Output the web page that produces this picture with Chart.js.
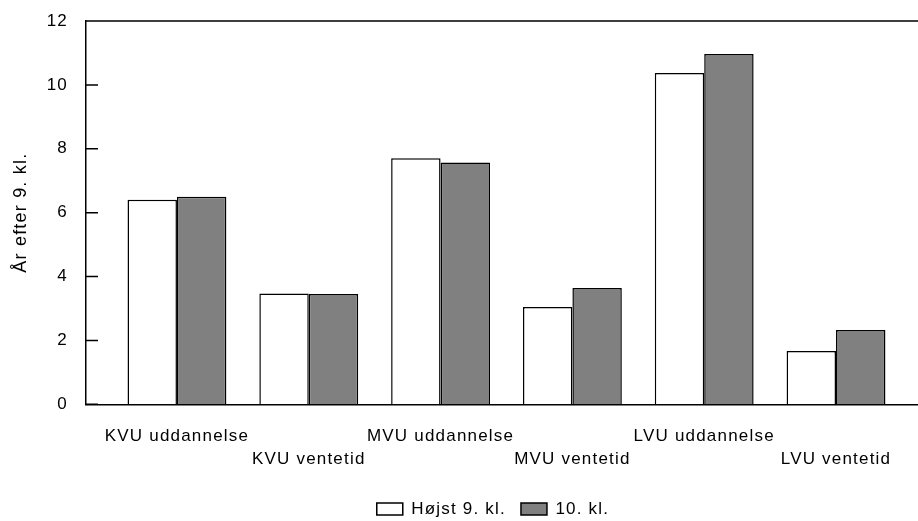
<!DOCTYPE html>
<html>
<head>
<meta charset="utf-8">
<script src="https://cdn.jsdelivr.net/npm/chart.js@4/dist/chart.umd.min.js"></script>
<style>
  html, body { margin: 0; padding: 0; background: #fff; }
</style>
</head>
<body>
<canvas id="myChart" width="918" height="521"></canvas>
<script>
// categories + values
const categories = [
  "KVU uddannelse",
  "KVU ventetid",
  "MVU uddannelse",
  "MVU ventetid",
  "LVU uddannelse",
  "LVU ventetid",
];
const seriesNames = ["Højst 9. kl.", "10. kl."];
const hoejst9 = [6.4, 3.47, 7.7, 3.05, 10.37, 1.67];
const klasse10 = [6.5, 3.45, 7.57, 3.64, 10.97, 2.33];
const yTicks = [0, 2, 4, 6, 8, 10, 12];
const yTitle = "År efter 9. kl.";

Chart.defaults.font.family = "'Liberation Sans', Arial, sans-serif";
Chart.defaults.font.size = 17;
Chart.defaults.color = "#000";

// slightly wider tracking like the original text
const spacing = {
  id: "spacing",
  beforeLayout(chart) { chart.ctx.letterSpacing = "1.2px"; },
  beforeDraw(chart) { chart.ctx.letterSpacing = "1.2px"; },
};

// top frame line + inward tick marks on the y axis, legend nudge
const frame = {
  id: "frame",
  afterLayout(chart) {
    const lg = chart.legend;
    lg.left += 34; lg.right += 34;
    lg.top += 6.5; lg.bottom += 6.5;
  },
  afterDatasetsDraw(chart) {
    const { ctx, chartArea, scales } = chart;
    ctx.save();
    ctx.strokeStyle = "#000";
    ctx.lineWidth = 1.5;
    ctx.beginPath();
    ctx.moveTo(chartArea.left, chartArea.top);
    ctx.lineTo(chartArea.right, chartArea.top);
    scales.y.ticks.forEach(function (t) {
      const y = scales.y.getPixelForValue(t.value);
      ctx.moveTo(chartArea.left, y);
      ctx.lineTo(chartArea.left + 12, y);
    });
    ctx.stroke();
    ctx.restore();
  },
};

const data = {
  datasets: [
    {
      label: seriesNames[0],
      data: hoejst9.map((v, i) => ({ x: i, y: v })),
      backgroundColor: "#ffffff",
      borderColor: "#000000",
      borderWidth: 1.5,
    },
    {
      label: seriesNames[1],
      data: klasse10.map((v, i) => ({ x: i, y: v })),
      backgroundColor: "#808080",
      borderColor: "#000000",
      borderWidth: 1.5,
    },
  ],
};

const config = {
  type: "bar",
  data: data,
  options: {
    responsive: false,
    animation: false,
    events: [],
    layout: {
      autoPadding: false,
      padding: { top: 21, right: 0, bottom: 0, left: 0 },
    },
    datasets: {
      bar: { categoryPercentage: 0.75, barPercentage: 1.0 },
    },
    scales: {
      x: {
        type: "linear",
        offset: false,
        min: -0.69,
        max: 5.622,
        grid: { display: false, drawTicks: false, offset: false },
        border: { display: true, color: "#000", width: 1.5 },
        afterBuildTicks(scale) {
          scale.ticks = categories.map((c, i) => ({ value: i }));
        },
        afterFit(scale) { scale.height = 74.7; },
        ticks: {
          autoSkip: false,
          maxRotation: 0,
          minRotation: 0,
          padding: 20.5,
          font: { size: 17, lineHeight: 1.335 },
          callback(value) {
            const name = categories[value];
            return value % 2 ? ["", name] : name;
          },
        },
      },
      y: {
        min: yTicks[0],
        max: yTicks[yTicks.length - 1],
        grid: { display: false, drawTicks: false },
        border: { display: true, color: "#000", width: 1.5 },
        afterFit(scale) {
          scale.width = 86;
          scale.paddingTop = 0;
          scale.paddingBottom = 0;
        },
        ticks: { stepSize: yTicks[1] - yTicks[0], padding: 18 },
        title: {
          display: true,
          text: yTitle,
          font: { size: 18 },
          padding: { top: 10, bottom: 0 },
        },
      },
    },
    plugins: {
      tooltip: { enabled: false },
      legend: {
        position: "bottom",
        labels: {
          boxWidth: 26,
          boxHeight: 12,
          padding: 15,
          font: { size: 17 },
        },
      },
    },
  },
  plugins: [spacing, frame],
};

const myChart = new Chart(document.getElementById("myChart"), config);
</script>
</body>
</html>
